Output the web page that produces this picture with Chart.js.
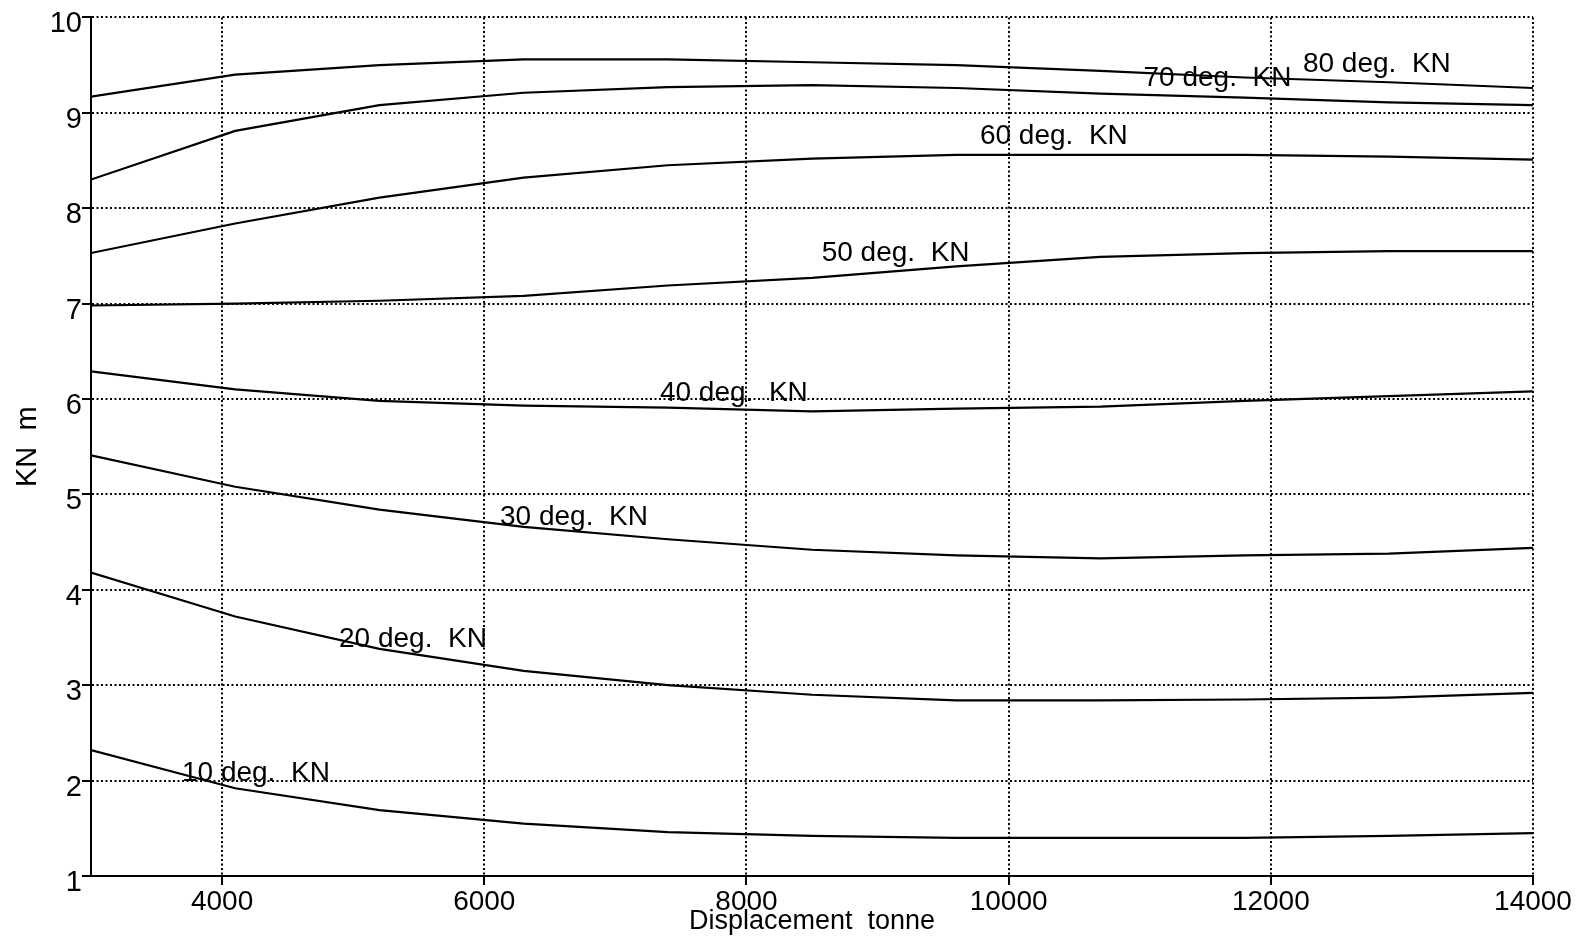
<!DOCTYPE html>
<html>
<head>
<meta charset="utf-8">
<script src="https://cdn.jsdelivr.net/npm/chart.js@4"></script>
<style>
    html, body { margin: 0; padding: 0; background: #fff; }
    #wrap { width: 1585px; height: 940px; }
</style>
</head>
<body>
<div id="wrap"><canvas id="kn-chart" width="1585" height="940"></canvas></div>
<script>
// Displacement (tonne) where each KN curve is read
const displacement = [3000, 4100, 5200, 6300, 7400, 8500, 9600, 10700, 11800, 12900, 14000];

// KN values (m) per heel angle
const kn10 = [2.32, 1.92, 1.69, 1.55, 1.46, 1.42, 1.40, 1.40, 1.40, 1.42, 1.45];
const kn20 = [4.18, 3.72, 3.38, 3.15, 3.00, 2.90, 2.84, 2.84, 2.85, 2.87, 2.92];
const kn30 = [5.41, 5.08, 4.84, 4.66, 4.53, 4.42, 4.36, 4.33, 4.36, 4.38, 4.44];
const kn40 = [6.29, 6.10, 5.98, 5.93, 5.91, 5.87, 5.90, 5.92, 5.98, 6.03, 6.08];
const kn50 = [6.98, 7.00, 7.03, 7.08, 7.19, 7.27, 7.39, 7.49, 7.53, 7.55, 7.55];
const kn60 = [7.53, 7.84, 8.11, 8.32, 8.45, 8.52, 8.56, 8.56, 8.56, 8.54, 8.51];
const kn70 = [8.30, 8.81, 9.08, 9.21, 9.27, 9.29, 9.26, 9.20, 9.16, 9.11, 9.08];
const kn80 = [9.17, 9.40, 9.50, 9.56, 9.56, 9.53, 9.50, 9.44, 9.37, 9.32, 9.26];

const curveNames = ['10 deg.  KN', '20 deg.  KN', '30 deg.  KN', '40 deg.  KN',
                    '50 deg.  KN', '60 deg.  KN', '70 deg.  KN', '80 deg.  KN'];
const curveValues = [kn10, kn20, kn30, kn40, kn50, kn60, kn70, kn80];

// where each curve name is written (displacement, KN)
const labelAtX = [3694, 4892, 6120, 7340, 8574, 9781, 11029, 12245];
const labelAtY = [2.08, 3.485, 4.76, 6.06, 7.53, 8.75, 9.36, 9.51];

// tick labels
const xTicks = [4000, 6000, 8000, 10000, 12000, 14000];
const yTicks = [1, 2, 3, 4, 5, 6, 7, 8, 9, 10];

const FONT = '"Liberation Sans", Arial, sans-serif';

// Writes the curve names inside the plot
const curveLabels = {
    id: 'curveLabels',
    afterDatasetsDraw(chart) {
        const ctx = chart.ctx;
        const xs = chart.scales.x;
        const ys = chart.scales.y;
        ctx.save();
        ctx.font = '28px ' + FONT;
        ctx.fillStyle = '#000';
        ctx.textAlign = 'left';
        ctx.textBaseline = 'middle';
        curveNames.forEach((name, i) => {
            ctx.fillText(name, xs.getPixelForValue(labelAtX[i]), ys.getPixelForValue(labelAtY[i]));
        });
        ctx.restore();
    }
};

const datasets = curveNames.map((name, i) => ({
    label: name,
    data: displacement.map((d, j) => ({ x: d, y: curveValues[i][j] })),
    borderColor: '#000',
    borderWidth: 2.2,
    pointRadius: 0,
    tension: 0,
    fill: false
}));

// dotted grid, solid tick marks
const gridStyle = {
    color: '#000',
    lineWidth: 2,
    tickBorderDash: [],
    tickColor: '#000',
    tickWidth: 2,
    tickLength: 9
};
const borderStyle = { display: true, color: '#000', width: 2, dash: [2, 2.5] };

new Chart(document.getElementById('kn-chart'), {
    type: 'line',
    data: { datasets: datasets },
    options: {
        responsive: false,
        animation: false,
        layout: { padding: { left: 0, right: 52, top: 15, bottom: 0 } },
        plugins: {
            legend: { display: false },
            tooltip: { enabled: false }
        },
        scales: {
            x: {
                type: 'linear',
                min: 3000,
                max: 14000,
                afterBuildTicks: (scale) => { scale.ticks = xTicks.map(v => ({ value: v })); },
                afterFit: (scale) => { scale.height = 64; },
                grid: gridStyle,
                border: borderStyle,
                ticks: {
                    color: '#000',
                    font: { family: FONT, size: 28 },
                    padding: 0,
                    maxRotation: 0,
                    autoSkip: false,
                    callback: (v) => String(v)
                },
                title: {
                    display: true,
                    text: 'Displacement  tonne',
                    color: '#000',
                    font: { family: FONT, size: 27 },
                    padding: { top: 0, bottom: 2 }
                }
            },
            y: {
                type: 'linear',
                min: 1,
                max: 10,
                afterBuildTicks: (scale) => { scale.ticks = yTicks.map(v => ({ value: v })); },
                afterFit: (scale) => { scale.width = 91; },
                grid: gridStyle,
                border: borderStyle,
                ticks: {
                    color: '#000',
                    font: { family: FONT, size: 29 },
                    padding: 0,
                    labelOffset: 7,
                    autoSkip: false,
                    callback: (v) => String(v)
                },
                title: {
                    display: true,
                    text: 'KN  m',
                    color: '#000',
                    font: { family: FONT, size: 29 },
                    padding: { top: 11, bottom: 0 }
                }
            }
        }
    },
    plugins: [curveLabels]
});
</script>
</body>
</html>
